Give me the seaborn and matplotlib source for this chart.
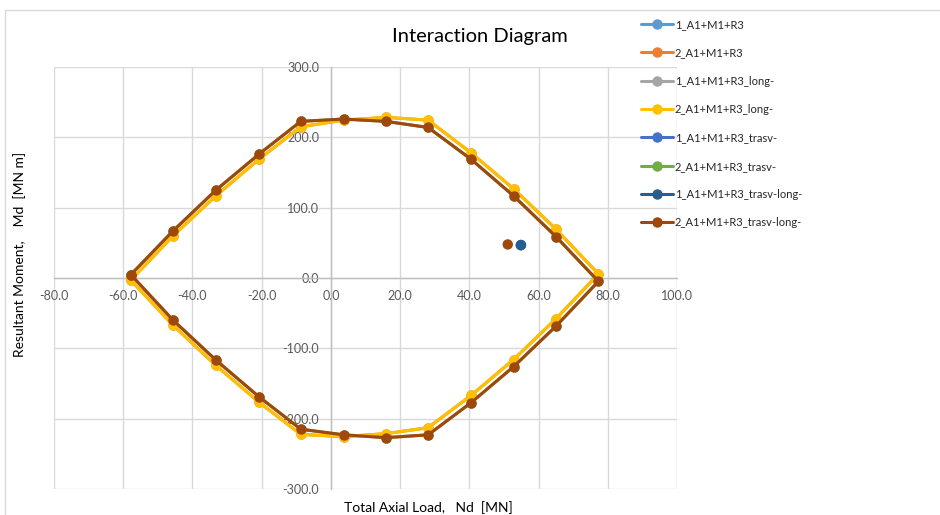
import numpy as np
import pandas as pd
import matplotlib
matplotlib.use("Agg")
import matplotlib.pyplot as plt
import matplotlib.patches as patches
from matplotlib.lines import Line2D
import seaborn as sns

# Data --------------------------------------------------------------------
# closed envelope, axial load Nd [MN]
axial_load = [-57.8, -45.6, -33.2, -20.8, -8.7, 3.7, 15.9, 28.1, 40.5, 52.8, 65.0, 77.3,
              65.0, 52.8, 40.5, 28.1, 15.9, 3.7, -8.7, -20.8, -33.2, -45.6, -57.8]

# moment Md [MN m] for "2_..._long-" (yellow)
moment_long = [-3.0, 60.0, 117.0, 168.8, 215.0, 224.5, 228.4, 224.5, 178.0, 126.7, 69.5, 5.7,
               -58.2, -115.9, -167.0, -212.8, -221.3, -225.5, -222.3, -176.4, -124.4, -67.2, -3.0]

# moment Md [MN m] for "2_..._trasv-long-" (brown)
moment_trasv_long = [4.7, 67.0, 125.0, 176.0, 222.7, 226.0, 222.7, 214.0, 168.8, 116.7, 59.0, -4.8,
                     -68.6, -126.0, -177.3, -223.0, -227.0, -223.0, -215.0, -168.8, -116.8, -60.0, 4.7]

# single design points
demand1_N = [54.9]
demand1_M = [46.8]
demand2_N = [51.1]
demand2_M = [47.7]

series_names = ["1_A1+M1+R3", "2_A1+M1+R3", "1_A1+M1+R3_long-", "2_A1+M1+R3_long-",
                "1_A1+M1+R3_trasv-", "2_A1+M1+R3_trasv-", "1_A1+M1+R3_trasv-long-",
                "2_A1+M1+R3_trasv-long-"]
series_colors = ["#5B9BD5", "#ED7D31", "#A5A5A5", "#FFC000",
                 "#4472C4", "#70AD47", "#255E91", "#9E480E"]

x_ticks = [-80, -60, -40, -20, 0, 20, 40, 60, 80, 100]
y_ticks = [-300, -200, -100, 0, 100, 200, 300]

# Styling -----------------------------------------------------------------
sns.set_style("white")
plt.rcParams['font.family'] = ['Lato', 'DejaVu Sans']

fig = plt.figure(figsize=(9.4, 5.15), dpi=100)
ax = fig.add_axes([54 / 940, 1 - 489 / 515, (677 - 54) / 940, (489 - 67) / 515])

lw = 2.2
ms = 7.5
line_kw = dict(sort=False, estimator=None, lw=lw, marker="o", markersize=ms,
               markeredgewidth=0, ax=ax, legend=False)

# hidden series first (under the visible ones)
for i in [0, 2, 4]:
    sns.scatterplot(x=demand1_N, y=demand1_M, color=series_colors[i], s=ms ** 2,
                    edgecolor="none", ax=ax, legend=False, zorder=3)
sns.lineplot(x=axial_load, y=moment_long, color=series_colors[1], zorder=3, **line_kw)
sns.lineplot(x=axial_load, y=moment_trasv_long, color=series_colors[5], zorder=3, **line_kw)

# visible series
sns.lineplot(x=axial_load, y=moment_long, color=series_colors[3], zorder=4, **line_kw)
sns.scatterplot(x=demand1_N, y=demand1_M, color=series_colors[6], s=ms ** 2,
                edgecolor="none", ax=ax, legend=False, zorder=5)
sns.lineplot(x=axial_load, y=moment_trasv_long, color=series_colors[7], zorder=5, **line_kw)
sns.scatterplot(x=demand2_N, y=demand2_M, color=series_colors[7], s=ms ** 2,
                edgecolor="none", ax=ax, legend=False, zorder=5)

# axes like Excel: crossing at zero, light grid
ax.set_xlim(-80, 100)
ax.set_ylim(-300, 300)
ax.set_xticks(x_ticks)
ax.set_yticks(y_ticks)
ax.set_xticklabels(["{:.1f}".format(v) for v in x_ticks])
ax.set_yticklabels(["{:.1f}".format(v) for v in y_ticks])
ax.grid(True, color="#D9D9D9", lw=1)
ax.spines['left'].set_position(('data', 0))
ax.spines['bottom'].set_position(('data', 0))
ax.spines['right'].set_visible(False)
ax.spines['top'].set_visible(False)
for s in ['left', 'bottom']:
    ax.spines[s].set_color("#BFBFBF")
    ax.spines[s].set_linewidth(1)
ax.tick_params(axis='both', length=0, labelsize=9, labelcolor="#595959", pad=8.5)

ax.set_xlabel("")
ax.set_ylabel("")

# titles and labels
fig.text(480 / 940, 1 - 36 / 515, "Interaction Diagram", fontsize=14.5, color="#000000",
         ha="center", va="center")
fig.text(428 / 940, 1 - 508 / 515, "Total Axial Load,   Nd  [MN]", fontsize=10,
         color="#000000", ha="center", va="center")
fig.text(20 / 940, 1 - 254 / 515, "Resultant Moment,    Md  [MN m]", fontsize=10,
         color="#000000", ha="center", va="center", rotation=90)

# legend
handles = [Line2D([0], [0], color=c, lw=lw, marker="o", markersize=ms, markeredgewidth=0)
           for c in series_colors]
fig.legend(handles, series_names, loc="upper left", bbox_to_anchor=(631 / 940, 1 - 9 / 515),
           frameon=False, fontsize=8, handlelength=2.9, handletextpad=0.15, labelspacing=1.56)

# chart border (cropped)
fig.patches.append(patches.Rectangle((5 / 940, -0.1), 1.2, 1 - 10 / 515 + 0.1,
                                     transform=fig.transFigure, fill=False,
                                     edgecolor="#D9D9D9", lw=1))

plt.savefig("out.png", dpi=100)
